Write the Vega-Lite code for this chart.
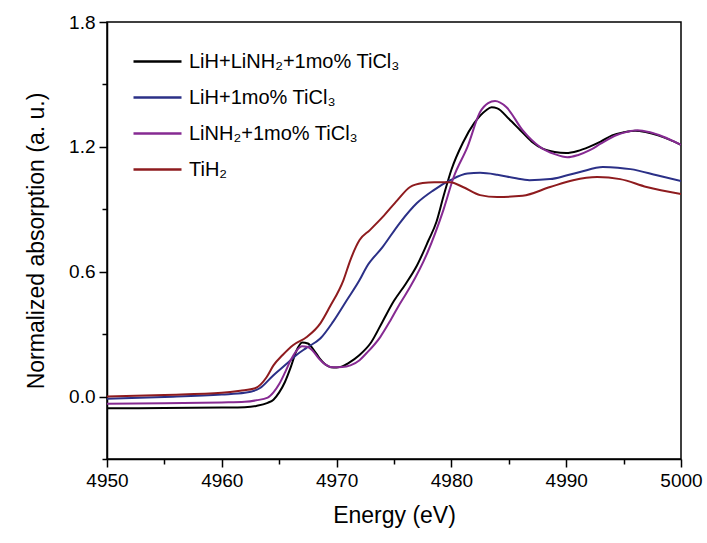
{
  "$schema": "https://vega.github.io/schema/vega-lite/v6.json",
  "width": 574,
  "height": 437,
  "autosize": {"type": "none"},
  "padding": {"left": 107, "top": 22, "right": 26, "bottom": 84},
  "background": "white",
  "data": {"values": [
    {"s":"LiH+LiNH₂+1mo% TiCl₃","E":4950,"A":-0.056},{"s":"LiH+LiNH₂+1mo% TiCl₃","E":4955,"A":-0.055},{"s":"LiH+LiNH₂+1mo% TiCl₃","E":4960,"A":-0.053},{"s":"LiH+LiNH₂+1mo% TiCl₃","E":4962,"A":-0.051},{"s":"LiH+LiNH₂+1mo% TiCl₃","E":4963,"A":-0.045},{"s":"LiH+LiNH₂+1mo% TiCl₃","E":4964,"A":-0.03},{"s":"LiH+LiNH₂+1mo% TiCl₃","E":4964.5,"A":-0.015},{"s":"LiH+LiNH₂+1mo% TiCl₃","E":4965,"A":0.02},{"s":"LiH+LiNH₂+1mo% TiCl₃","E":4965.5,"A":0.07},{"s":"LiH+LiNH₂+1mo% TiCl₃","E":4966,"A":0.14},{"s":"LiH+LiNH₂+1mo% TiCl₃","E":4966.5,"A":0.22},{"s":"LiH+LiNH₂+1mo% TiCl₃","E":4967,"A":0.26},{"s":"LiH+LiNH₂+1mo% TiCl₃","E":4967.5,"A":0.255},{"s":"LiH+LiNH₂+1mo% TiCl₃","E":4968,"A":0.225},{"s":"LiH+LiNH₂+1mo% TiCl₃","E":4968.5,"A":0.185},{"s":"LiH+LiNH₂+1mo% TiCl₃","E":4969,"A":0.155},{"s":"LiH+LiNH₂+1mo% TiCl₃","E":4969.5,"A":0.141},{"s":"LiH+LiNH₂+1mo% TiCl₃","E":4970,"A":0.14},{"s":"LiH+LiNH₂+1mo% TiCl₃","E":4970.5,"A":0.145},{"s":"LiH+LiNH₂+1mo% TiCl₃","E":4971,"A":0.16},{"s":"LiH+LiNH₂+1mo% TiCl₃","E":4972,"A":0.2},{"s":"LiH+LiNH₂+1mo% TiCl₃","E":4973,"A":0.26},{"s":"LiH+LiNH₂+1mo% TiCl₃","E":4974,"A":0.36},{"s":"LiH+LiNH₂+1mo% TiCl₃","E":4975,"A":0.46},{"s":"LiH+LiNH₂+1mo% TiCl₃","E":4976,"A":0.54},{"s":"LiH+LiNH₂+1mo% TiCl₃","E":4977,"A":0.63},{"s":"LiH+LiNH₂+1mo% TiCl₃","E":4978,"A":0.75},{"s":"LiH+LiNH₂+1mo% TiCl₃","E":4978.7,"A":0.84},{"s":"LiH+LiNH₂+1mo% TiCl₃","E":4979.3,"A":0.96},{"s":"LiH+LiNH₂+1mo% TiCl₃","E":4980,"A":1.09},{"s":"LiH+LiNH₂+1mo% TiCl₃","E":4981,"A":1.22},{"s":"LiH+LiNH₂+1mo% TiCl₃","E":4982,"A":1.315},{"s":"LiH+LiNH₂+1mo% TiCl₃","E":4983,"A":1.375},{"s":"LiH+LiNH₂+1mo% TiCl₃","E":4983.5,"A":1.39},{"s":"LiH+LiNH₂+1mo% TiCl₃","E":4984,"A":1.385},{"s":"LiH+LiNH₂+1mo% TiCl₃","E":4985,"A":1.335},{"s":"LiH+LiNH₂+1mo% TiCl₃","E":4986,"A":1.28},{"s":"LiH+LiNH₂+1mo% TiCl₃","E":4987,"A":1.225},{"s":"LiH+LiNH₂+1mo% TiCl₃","E":4988,"A":1.19},{"s":"LiH+LiNH₂+1mo% TiCl₃","E":4989,"A":1.175},{"s":"LiH+LiNH₂+1mo% TiCl₃","E":4990,"A":1.17},{"s":"LiH+LiNH₂+1mo% TiCl₃","E":4991,"A":1.18},{"s":"LiH+LiNH₂+1mo% TiCl₃","E":4992,"A":1.2},{"s":"LiH+LiNH₂+1mo% TiCl₃","E":4993,"A":1.225},{"s":"LiH+LiNH₂+1mo% TiCl₃","E":4994,"A":1.255},{"s":"LiH+LiNH₂+1mo% TiCl₃","E":4995,"A":1.27},{"s":"LiH+LiNH₂+1mo% TiCl₃","E":4996,"A":1.278},{"s":"LiH+LiNH₂+1mo% TiCl₃","E":4997,"A":1.27},{"s":"LiH+LiNH₂+1mo% TiCl₃","E":4998,"A":1.255},{"s":"LiH+LiNH₂+1mo% TiCl₃","E":4999,"A":1.235},{"s":"LiH+LiNH₂+1mo% TiCl₃","E":5000,"A":1.21},
    {"s":"LiH+1mo% TiCl₃","E":4950,"A":-0.011},{"s":"LiH+1mo% TiCl₃","E":4955,"A":-0.002},{"s":"LiH+1mo% TiCl₃","E":4960,"A":0.01},{"s":"LiH+1mo% TiCl₃","E":4962,"A":0.018},{"s":"LiH+1mo% TiCl₃","E":4963.3,"A":0.04},{"s":"LiH+1mo% TiCl₃","E":4964.5,"A":0.103},{"s":"LiH+1mo% TiCl₃","E":4965.7,"A":0.16},{"s":"LiH+1mo% TiCl₃","E":4966.5,"A":0.2},{"s":"LiH+1mo% TiCl₃","E":4967.4,"A":0.235},{"s":"LiH+1mo% TiCl₃","E":4968.6,"A":0.28},{"s":"LiH+1mo% TiCl₃","E":4969.7,"A":0.36},{"s":"LiH+1mo% TiCl₃","E":4970.9,"A":0.464},{"s":"LiH+1mo% TiCl₃","E":4972,"A":0.56},{"s":"LiH+1mo% TiCl₃","E":4972.6,"A":0.622},{"s":"LiH+1mo% TiCl₃","E":4974,"A":0.718},{"s":"LiH+1mo% TiCl₃","E":4975.5,"A":0.834},{"s":"LiH+1mo% TiCl₃","E":4977,"A":0.93},{"s":"LiH+1mo% TiCl₃","E":4978.4,"A":0.99},{"s":"LiH+1mo% TiCl₃","E":4979.9,"A":1.04},{"s":"LiH+1mo% TiCl₃","E":4981.4,"A":1.072},{"s":"LiH+1mo% TiCl₃","E":4982.5,"A":1.075},{"s":"LiH+1mo% TiCl₃","E":4984,"A":1.066},{"s":"LiH+1mo% TiCl₃","E":4985.5,"A":1.05},{"s":"LiH+1mo% TiCl₃","E":4986.8,"A":1.04},{"s":"LiH+1mo% TiCl₃","E":4988.6,"A":1.045},{"s":"LiH+1mo% TiCl₃","E":4990,"A":1.062},{"s":"LiH+1mo% TiCl₃","E":4991.2,"A":1.079},{"s":"LiH+1mo% TiCl₃","E":4993.2,"A":1.103},{"s":"LiH+1mo% TiCl₃","E":4994.5,"A":1.1},{"s":"LiH+1mo% TiCl₃","E":4995.6,"A":1.093},{"s":"LiH+1mo% TiCl₃","E":4997.9,"A":1.064},{"s":"LiH+1mo% TiCl₃","E":5000,"A":1.036},
    {"s":"LiNH₂+1mo% TiCl₃","E":4950,"A":-0.034},{"s":"LiNH₂+1mo% TiCl₃","E":4955,"A":-0.032},{"s":"LiNH₂+1mo% TiCl₃","E":4960,"A":-0.028},{"s":"LiNH₂+1mo% TiCl₃","E":4962,"A":-0.025},{"s":"LiNH₂+1mo% TiCl₃","E":4963,"A":-0.018},{"s":"LiNH₂+1mo% TiCl₃","E":4964,"A":-0.005},{"s":"LiNH₂+1mo% TiCl₃","E":4964.5,"A":0.02},{"s":"LiNH₂+1mo% TiCl₃","E":4965,"A":0.06},{"s":"LiNH₂+1mo% TiCl₃","E":4965.5,"A":0.115},{"s":"LiNH₂+1mo% TiCl₃","E":4966,"A":0.175},{"s":"LiNH₂+1mo% TiCl₃","E":4966.5,"A":0.22},{"s":"LiNH₂+1mo% TiCl₃","E":4967,"A":0.242},{"s":"LiNH₂+1mo% TiCl₃","E":4967.5,"A":0.238},{"s":"LiNH₂+1mo% TiCl₃","E":4968,"A":0.215},{"s":"LiNH₂+1mo% TiCl₃","E":4968.5,"A":0.18},{"s":"LiNH₂+1mo% TiCl₃","E":4969,"A":0.155},{"s":"LiNH₂+1mo% TiCl₃","E":4969.7,"A":0.141},{"s":"LiNH₂+1mo% TiCl₃","E":4970.5,"A":0.142},{"s":"LiNH₂+1mo% TiCl₃","E":4971.2,"A":0.15},{"s":"LiNH₂+1mo% TiCl₃","E":4972,"A":0.175},{"s":"LiNH₂+1mo% TiCl₃","E":4972.6,"A":0.208},{"s":"LiNH₂+1mo% TiCl₃","E":4973.8,"A":0.286},{"s":"LiNH₂+1mo% TiCl₃","E":4974.7,"A":0.367},{"s":"LiNH₂+1mo% TiCl₃","E":4975.5,"A":0.445},{"s":"LiNH₂+1mo% TiCl₃","E":4976.4,"A":0.526},{"s":"LiNH₂+1mo% TiCl₃","E":4977.9,"A":0.69},{"s":"LiNH₂+1mo% TiCl₃","E":4979.3,"A":0.896},{"s":"LiNH₂+1mo% TiCl₃","E":4980.2,"A":1.055},{"s":"LiNH₂+1mo% TiCl₃","E":4981.4,"A":1.2},{"s":"LiNH₂+1mo% TiCl₃","E":4982.5,"A":1.367},{"s":"LiNH₂+1mo% TiCl₃","E":4983.2,"A":1.41},{"s":"LiNH₂+1mo% TiCl₃","E":4983.8,"A":1.42},{"s":"LiNH₂+1mo% TiCl₃","E":4984.8,"A":1.39},{"s":"LiNH₂+1mo% TiCl₃","E":4986.2,"A":1.28},{"s":"LiNH₂+1mo% TiCl₃","E":4987.7,"A":1.2},{"s":"LiNH₂+1mo% TiCl₃","E":4989,"A":1.165},{"s":"LiNH₂+1mo% TiCl₃","E":4990.1,"A":1.15},{"s":"LiNH₂+1mo% TiCl₃","E":4991,"A":1.16},{"s":"LiNH₂+1mo% TiCl₃","E":4992.1,"A":1.185},{"s":"LiNH₂+1mo% TiCl₃","E":4993,"A":1.215},{"s":"LiNH₂+1mo% TiCl₃","E":4994.4,"A":1.257},{"s":"LiNH₂+1mo% TiCl₃","E":4995.3,"A":1.272},{"s":"LiNH₂+1mo% TiCl₃","E":4996.2,"A":1.28},{"s":"LiNH₂+1mo% TiCl₃","E":4997.3,"A":1.27},{"s":"LiNH₂+1mo% TiCl₃","E":4998.4,"A":1.25},{"s":"LiNH₂+1mo% TiCl₃","E":5000,"A":1.21},
    {"s":"TiH₂","E":4950,"A":0.0},{"s":"TiH₂","E":4955,"A":0.008},{"s":"TiH₂","E":4960,"A":0.018},{"s":"TiH₂","E":4961.6,"A":0.028},{"s":"TiH₂","E":4962.9,"A":0.04},{"s":"TiH₂","E":4963.9,"A":0.093},{"s":"TiH₂","E":4964.5,"A":0.15},{"s":"TiH₂","E":4965.3,"A":0.2},{"s":"TiH₂","E":4966.2,"A":0.247},{"s":"TiH₂","E":4967.4,"A":0.286},{"s":"TiH₂","E":4968.6,"A":0.353},{"s":"TiH₂","E":4969.4,"A":0.43},{"s":"TiH₂","E":4970.6,"A":0.56},{"s":"TiH₂","E":4971.2,"A":0.656},{"s":"TiH₂","E":4972,"A":0.752},{"s":"TiH₂","E":4972.9,"A":0.8},{"s":"TiH₂","E":4974,"A":0.862},{"s":"TiH₂","E":4975.3,"A":0.944},{"s":"TiH₂","E":4976.4,"A":1.007},{"s":"TiH₂","E":4977.5,"A":1.026},{"s":"TiH₂","E":4978.5,"A":1.03},{"s":"TiH₂","E":4979.9,"A":1.03},{"s":"TiH₂","E":4981,"A":1.007},{"s":"TiH₂","E":4982.5,"A":0.968},{"s":"TiH₂","E":4984,"A":0.959},{"s":"TiH₂","E":4986.2,"A":0.965},{"s":"TiH₂","E":4988.6,"A":1.007},{"s":"TiH₂","E":4990.6,"A":1.04},{"s":"TiH₂","E":4992.7,"A":1.055},{"s":"TiH₂","E":4994.7,"A":1.045},{"s":"TiH₂","E":4997,"A":1.007},{"s":"TiH₂","E":5000,"A":0.973}
  ]},
  "mark": {"type": "line", "strokeWidth": 2, "interpolate": "monotone", "clip": true},
  "encoding": {
    "x": {
      "field": "E", "type": "quantitative",
      "scale": {"domain": [4950, 5000], "nice": false, "zero": false},
      "axis": {
        "title": "Energy (eV)",
        "values": [4950, 4955, 4960, 4965, 4970, 4975, 4980, 4985, 4990, 4995, 5000],
        "labelExpr": "datum.value % 10 === 0 ? format(datum.value, 'd') : ''",
        "tickSize": {"condition": {"test": "datum.value % 10 === 0", "value": 8}, "value": 5},
        "labelPadding": 4,
        "titlePadding": 14,
        "labelFlush": false,
        "labelOverlap": false
      }
    },
    "y": {
      "field": "A", "type": "quantitative",
      "scale": {"domain": [-0.3, 1.8], "nice": false, "zero": false},
      "axis": {
        "title": "Normalized absorption (a. u.)",
        "values": [-0.3, 0, 0.3, 0.6, 0.9, 1.2, 1.5, 1.8],
        "labelExpr": "abs(round(datum.value * 10)) % 6 === 0 ? format(datum.value, '.1f') : ''",
        "tickSize": {"condition": {"test": "abs(round(datum.value * 10)) % 6 === 0", "value": 8}, "value": 5},
        "labelPadding": 4,
        "titlePadding": 20,
        "labelFlush": false,
        "labelOverlap": false
      }
    },
    "color": {
      "field": "s", "type": "nominal",
      "scale": {
        "domain": ["LiH+LiNH₂+1mo% TiCl₃", "LiH+1mo% TiCl₃", "LiNH₂+1mo% TiCl₃", "TiH₂"],
        "range": ["#000000", "#2B3087", "#862A92", "#8E1B1E"]
      },
      "legend": {
        "title": null,
        "orient": "none",
        "legendX": 25,
        "legendY": 14,
        "symbolType": "stroke",
        "symbolSize": 2304,
        "symbolStrokeWidth": 2.5,
        "labelFontSize": 20,
        "labelFont": "Liberation Sans",
        "labelColor": "#000000",
        "labelOffset": 6,
        "rowPadding": -13,
        "labelLimit": 400
      }
    }
  },
  "config": {
    "view": {"stroke": "#000000", "strokeWidth": 1.5},
    "axis": {
      "domainColor": "#000000",
      "domainWidth": 1.5,
      "tickColor": "#000000",
      "tickWidth": 1.5,
      "grid": false,
      "labelFont": "Liberation Sans",
      "labelFontSize": 19,
      "labelColor": "#000000",
      "titleFont": "Liberation Sans",
      "titleFontSize": 23,
      "titleFontWeight": "normal",
      "titleColor": "#000000"
    }
  }
}
